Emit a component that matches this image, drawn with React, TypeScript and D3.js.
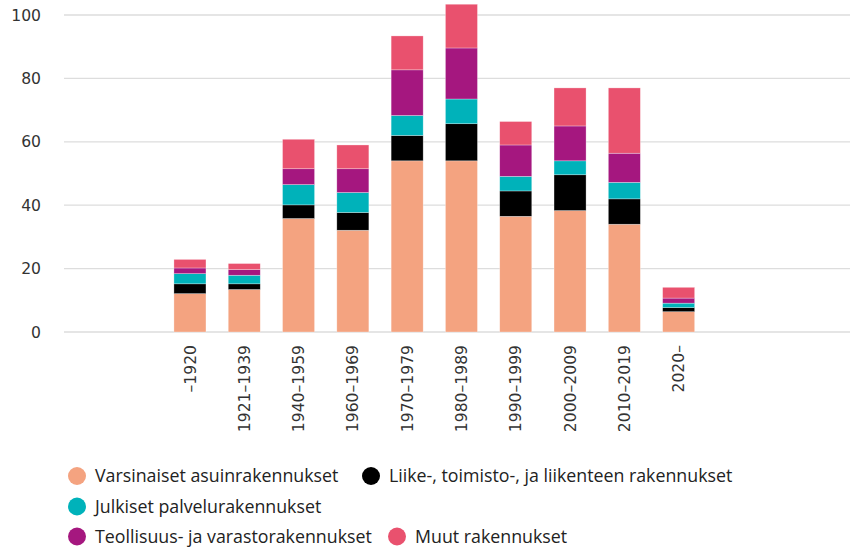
import * as d3 from "d3"
import React from "react"

const categories = ["–1920", "1921–1939", "1940–1959", "1960–1969", "1970–1979", "1980–1989", "1990–1999", "2000–2009", "2010–2019", "2020–"]

const seriesNames = [
  "Varsinaiset asuinrakennukset",
  "Liike-, toimisto-, ja liikenteen rakennukset",
  "Julkiset palvelurakennukset",
  "Teollisuus- ja varastorakennukset",
  "Muut rakennukset",
]

const asuin = [12.1, 13.4, 35.8, 32.1, 54.0, 54.0, 36.5, 38.3, 34.0, 6.4]
const liike = [3.1, 1.8, 4.3, 5.6, 8.0, 11.7, 8.0, 11.3, 8.0, 1.3]
const julkiset = [3.2, 2.7, 6.4, 6.3, 6.3, 7.8, 4.6, 4.4, 5.2, 1.4]
const teollisuus = [1.8, 1.8, 5.0, 7.5, 14.4, 16.1, 9.9, 11.0, 9.2, 1.6]
const muut = [2.7, 1.9, 9.3, 7.5, 10.7, 13.8, 7.4, 12.0, 20.6, 3.4]

const yTicks = [0, 20, 40, 60, 80, 100]

const colors = ["#F4A380", "#000000", "#00B2BA", "#A5177F", "#E9516E"]

const W = 850
const H = 551
const AXIS_FONT = "'DejaVu Sans', Verdana, sans-serif"
const LEGEND_FONT = "'Open Sans', sans-serif"

export default function App() {
  const values = [asuin, liike, julkiset, teollisuus, muut]
  const rows = categories.map((c, i) => {
    const r: any = { cat: c }
    seriesNames.forEach((s, k) => (r[s] = values[k][i]))
    return r
  })
  const stacked = d3.stack().keys(seriesNames)(rows)

  const x = d3.scaleBand().domain(categories).range([162.8, 705.8]).paddingInner(0.41).paddingOuter(0.205)
  const y = d3.scaleLinear().domain([0, 100]).range([332, 15])

  // legend item anchors (circle centres), flowing layout as in the original
  const legendPos = [[77, 476], [371, 476], [77, 506.5], [77, 536.5], [397, 536.5]]

  return (
    <svg width={W} height={H} style={{ position: "absolute", left: 0, top: 0 }}>
      <rect width={W} height={H} fill="#fff" />
      {yTicks.map((t) => (
        <g key={t}>
          <line x1={64} x2={W} y1={y(t)} y2={y(t)} stroke="#dddddd" strokeWidth={1.3} />
          <text x={41} y={y(t)} dy="0.36em" textAnchor="end" fontFamily={AXIS_FONT} fontSize={15.6} fill="#333">{t}</text>
        </g>
      ))}
      {stacked.map((layer, k) => (
        <g key={layer.key} fill={colors[k]}>
          {layer.map((d: any, i) => (
            <rect
              key={i}
              x={x(categories[i])}
              width={x.bandwidth()}
              y={y(d[1])}
              height={y(d[0]) - y(d[1])}
              stroke="#fff"
              strokeOpacity={0.5}
              strokeWidth={0.6}
            />
          ))}
        </g>
      ))}
      {categories.map((c) => (
        <text
          key={c}
          transform={`translate(${x(c)! + x.bandwidth() / 2},345) rotate(-90)`}
          textAnchor="end"
          dy="0.36em"
          fontFamily={AXIS_FONT}
          fontSize={15.6}
          fill="#333"
        >{c}</text>
      ))}
      {seriesNames.map((s, k) => (
        <g key={s} transform={`translate(${legendPos[k][0]},${legendPos[k][1]})`}>
          <circle r={9} fill={colors[k]} />
          <text x={18} dy="0.35em" fontFamily={LEGEND_FONT} fontSize={17.8} fill="#222">{s}</text>
        </g>
      ))}
    </svg>
  )
}
